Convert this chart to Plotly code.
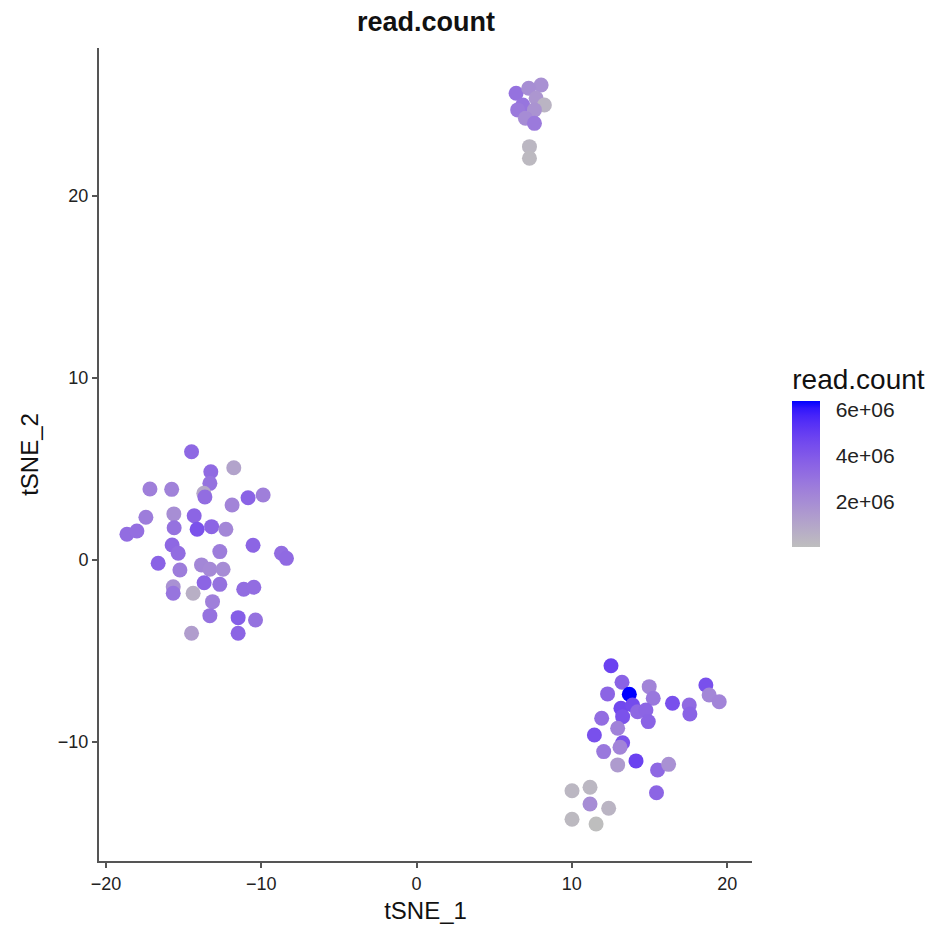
import plotly.graph_objects as go

# t-SNE embedding coordinates and per-cell read counts
tsne_1 = [
    # cluster on the left
    -14.49, -11.77, -13.25, -13.31, -17.17, -15.77, -13.70, -13.63, -10.85, -9.88,
    -11.88, -17.43, -15.63, -14.32, -18.65, -18.01, -15.61, -14.13, -13.20, -12.28,
    -15.74, -15.35, -10.53, -12.67, -8.70, -8.38, -16.64, -15.24, -13.85, -13.31,
    -12.46, -13.68, -12.67, -15.67, -15.67, -14.39, -11.13, -10.48, -13.14, -13.31,
    -11.49, -10.37, -14.49, -11.49,
    # cluster bottom right
    12.52, 13.23, 12.30, 13.70, 14.98, 15.24, 18.63, 18.84, 19.49, 16.48,
    17.56, 17.60, 13.16, 13.91, 14.23, 14.77, 13.27, 14.92, 11.92, 12.95,
    11.45, 13.27, 13.10, 12.05, 14.13, 12.95, 15.52, 16.23, 15.45, 10.01,
    11.17, 11.17, 12.37, 10.01, 11.56,
    # cluster at the top
    8.02, 6.41, 7.22, 7.70, 8.23, 6.84, 6.51, 7.59, 7.01, 7.59, 7.27, 7.27,
]
tsne_2 = [
    5.95, 5.07, 4.85, 4.21, 3.90, 3.88, 3.66, 3.46, 3.42, 3.57,
    3.02, 2.35, 2.53, 2.43, 1.41, 1.59, 1.77, 1.69, 1.83, 1.69,
    0.82, 0.37, 0.81, 0.46, 0.37, 0.09, -0.18, -0.55, -0.27, -0.51,
    -0.51, -1.25, -1.34, -1.47, -1.83, -1.83, -1.61, -1.50, -2.29, -3.06,
    -3.17, -3.30, -4.03, -4.03,
    -5.81, -6.72, -7.36, -7.38, -6.96, -7.60, -6.87, -7.42, -7.79, -7.87,
    -7.97, -8.46, -8.15, -7.97, -8.34, -8.24, -8.61, -8.88, -8.70, -9.25,
    -9.62, -10.04, -10.29, -10.53, -11.04, -11.26, -11.54, -11.23, -12.79, -12.68,
    -12.49, -13.41, -13.64, -14.25, -14.51,
    26.10, 25.64, 25.92, 25.37, 25.00, 25.00, 24.73, 24.73, 24.27, 23.99, 22.71, 22.07,
]
read_count = [
    3.4e6, 1.1e6, 3.3e6, 3.0e6, 2.5e6, 2.4e6, 0.9e6, 3.2e6, 3.6e6, 2.5e6,
    2.3e6, 2.6e6, 1.9e6, 3.5e6, 3.2e6, 3.1e6, 3.0e6, 4.2e6, 3.5e6, 2.2e6,
    3.4e6, 3.2e6, 3.5e6, 2.6e6, 3.2e6, 3.3e6, 3.6e6, 2.6e6, 2.2e6, 2.1e6,
    2.0e6, 3.5e6, 3.0e6, 1.8e6, 2.9e6, 0.6e6, 3.2e6, 3.2e6, 2.5e6, 3.0e6,
    3.8e6, 3.0e6, 1.3e6, 3.5e6,
    4.8e6, 3.6e6, 3.5e6, 6.36e6, 2.3e6, 2.8e6, 4.3e6, 2.2e6, 2.3e6, 4.3e6,
    3.3e6, 3.6e6, 4.6e6, 4.5e6, 3.4e6, 3.5e6, 4.2e6, 3.6e6, 3.2e6, 2.4e6,
    4.3e6, 4.2e6, 2.3e6, 2.8e6, 4.8e6, 1.4e6, 3.4e6, 1.8e6, 3.5e6, 0.3e6,
    0.3e6, 2.0e6, 0.4e6, 0.2e6, 0.01e6,
    1.8e6, 3.0e6, 1.9e6, 1.6e6, 0.4e6, 2.9e6, 2.7e6, 1.7e6, 2.0e6, 2.7e6, 0.3e6, 0.2e6,
]

cbar_tickvals = [2e6, 4e6, 6e6]
cbar_ticktext = ["2e+06", "4e+06", "6e+06"]
x_ticks = [-20, -10, 0, 10, 20]
y_ticks = [-10, 0, 10, 20]


# grey -> blue gradient interpolated in CIE Lab space
def _srgb_to_lab(hex_color):
    rgb = [int(hex_color[i:i + 2], 16) / 255 for i in (1, 3, 5)]
    lin = [c / 12.92 if c <= 0.04045 else ((c + 0.055) / 1.055) ** 2.4 for c in rgb]
    r, g, b = lin
    x = (0.4124 * r + 0.3576 * g + 0.1805 * b) / 0.95047
    y = (0.2126 * r + 0.7152 * g + 0.0722 * b) / 1.0
    z = (0.0193 * r + 0.1192 * g + 0.9505 * b) / 1.08883

    def f(t):
        return t ** (1 / 3) if t > 216 / 24389 else (24389 / 27 * t + 16) / 116

    fx, fy, fz = f(x), f(y), f(z)
    return (116 * fy - 16, 500 * (fx - fy), 200 * (fy - fz))


def _lab_to_rgb(lab):
    L, a, b = lab
    fy = (L + 16) / 116
    fx = fy + a / 500
    fz = fy - b / 200

    def finv(t):
        return t ** 3 if t ** 3 > 216 / 24389 else (116 * t - 16) / (24389 / 27)

    x, y, z = finv(fx) * 0.95047, finv(fy), finv(fz) * 1.08883
    r = 3.2406 * x - 1.5372 * y - 0.4986 * z
    g = -0.9689 * x + 1.8758 * y + 0.0415 * z
    bl = 0.0557 * x - 0.2040 * y + 1.0570 * z
    out = []
    for c in (r, g, bl):
        c = max(0.0, min(1.0, c))
        c = 12.92 * c if c <= 0.0031308 else 1.055 * c ** (1 / 2.4) - 0.055
        out.append(int(round(max(0.0, min(1.0, c)) * 255)))
    return "rgb({},{},{})".format(*out)


low_lab = _srgb_to_lab("#BEBEBE")
high_lab = _srgb_to_lab("#0000FF")
n_stops = 21
colorscale = []
for i in range(n_stops):
    t = i / (n_stops - 1)
    lab = tuple(lo + (hi - lo) * t for lo, hi in zip(low_lab, high_lab))
    colorscale.append([t, _lab_to_rgb(lab)])

font_family = "Liberation Sans, Arial, sans-serif"

fig = go.Figure(
    go.Scatter(
        x=tsne_1,
        y=tsne_2,
        mode="markers",
        marker=dict(
            size=15,
            color=read_count,
            colorscale=colorscale,
            cmin=min(read_count),
            cmax=max(read_count),
            line=dict(width=0),
            colorbar=dict(
                title=dict(text="read.count", side="top",
                           font=dict(size=28, color="#111", family=font_family)),
                thickness=28,
                len=182,
                lenmode="pixels",
                x=1.06,
                xanchor="left",
                xpad=0,
                y=(861 - 547) / 813,
                yanchor="bottom",
                ypad=0,
                outlinewidth=0,
                tickvals=cbar_tickvals,
                ticktext=cbar_ticktext,
                ticks="outside",
                ticklen=12,
                tickcolor="rgba(0,0,0,0)",
                tickfont=dict(size=21, color="#222", family=font_family),
            ),
        ),
        showlegend=False,
        hoverinfo="skip",
    )
)

axis_common = dict(
    showgrid=False,
    zeroline=False,
    showline=True,
    linecolor="#555",
    linewidth=2,
    ticks="outside",
    ticklen=5,
    tickwidth=1.5,
    tickcolor="#555",
    title_font=dict(size=24, color="#111", family=font_family),
)

fig.update_layout(
    width=936,
    height=945,
    paper_bgcolor="white",
    plot_bgcolor="white",
    margin=dict(l=99, r=183, t=48, b=84),
    font=dict(family=font_family),
    title=dict(
        text="<b>read.count</b>",
        x=(99 + 753) / 2 / 936,
        xanchor="center",
        y=1 - 22 / 945,
        yanchor="middle",
        font=dict(size=27, color="#111", family=font_family),
    ),
    xaxis=dict(range=[-20.45, 21.6], tickvals=x_ticks, title=dict(text="tSNE_1", standoff=10),
               tickfont=dict(size=18, color="#222", family=font_family),
               **axis_common),
    yaxis=dict(range=[-16.54, 28.13], tickvals=y_ticks, title=dict(text="tSNE_2", standoff=12),
               tickfont=dict(size=18, color="#222", family=font_family),
               **axis_common),
)

fig.write_html("out.html")
